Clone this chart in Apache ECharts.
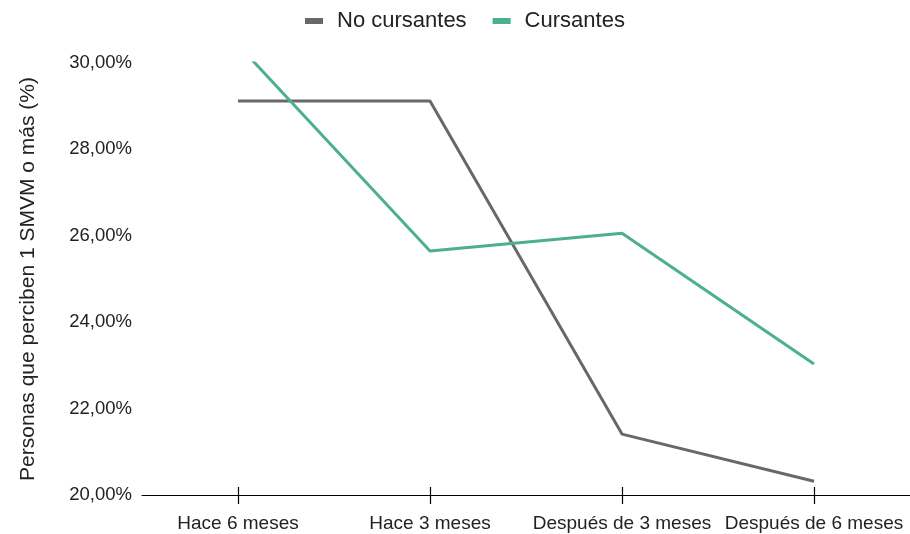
<!DOCTYPE html>
<html><head><meta charset="utf-8">
<script src="https://cdn.jsdelivr.net/npm/echarts@6/dist/echarts.min.js"></script>
<style>html,body{margin:0;padding:0;background:#fff}#c{width:910px;height:534px}</style>
</head><body><div id="c"></div>
<script>
var categories = ['Hace 6 meses', 'Hace 3 meses', 'Después de 3 meses', 'Después de 6 meses'];
var noCursantes = [29.12, 29.12, 21.41, 20.32];
var cursantes = [30.42, 25.65, 26.06, 23.03];
var yTicks = [20, 22, 24, 26, 28, 30];

var chart = echarts.init(document.getElementById('c'));
var font = 'Liberation Sans, Arial, sans-serif';
chart.setOption({
  animation: false,
  textStyle: {fontFamily: font},
  legend: {
    top: 5, left: 300, itemWidth: 18, itemHeight: 6, itemGap: 26,
    icon: 'rect',
    textStyle: {fontSize: 22, color: '#222', fontFamily: font, padding: [0, 0, 0, 9]},
    data: ['No cursantes', 'Cursantes']
  },
  grid: {left: 142, right: 0, top: 63, bottom: 39, containLabel: false},
  xAxis: [{
    type: 'category', data: categories, boundaryGap: true,
    axisLine: {show: true, lineStyle: {color: '#000', width: 1.2}},
    axisTick: {show: true, alignWithLabel: true, length: 9, lineStyle: {color: '#000', width: 1.2}},
    axisLabel: {fontSize: 19, color: '#222', margin: 19, fontFamily: font, interval: 0}
  }, {
    type: 'category', data: categories, boundaryGap: true, position: 'bottom',
    axisLine: {show: false},
    axisTick: {show: true, alignWithLabel: true, inside: true, length: 8, lineStyle: {color: '#000', width: 1.2}},
    axisLabel: {show: false}
  }],
  yAxis: {
    type: 'value', min: 20, max: 30, interval: 2,
    name: 'Personas que perciben 1 SMVM o más (%)', nameLocation: 'middle', nameGap: 103,
    nameTextStyle: {fontSize: 21, color: '#222', fontFamily: font},
    axisLine: {show: false}, axisTick: {show: false},
    splitLine: {show: false},
    axisLabel: {fontSize: 18.5, color: '#222', margin: 10, fontFamily: font,
      formatter: function (v) { return v.toFixed(2).replace('.', ',') + '%'; }}
  },
  series: [{
    name: 'No cursantes', type: 'line', data: noCursantes, symbol: 'none',
    itemStyle: {color: '#686868'}, lineStyle: {color: '#686868', width: 3}
  }, {
    name: 'Cursantes', type: 'line', data: cursantes, symbol: 'none', clip: true,
    itemStyle: {color: '#4caf91'}, lineStyle: {color: '#4caf91', width: 3}
  }]
});
</script></body></html>
